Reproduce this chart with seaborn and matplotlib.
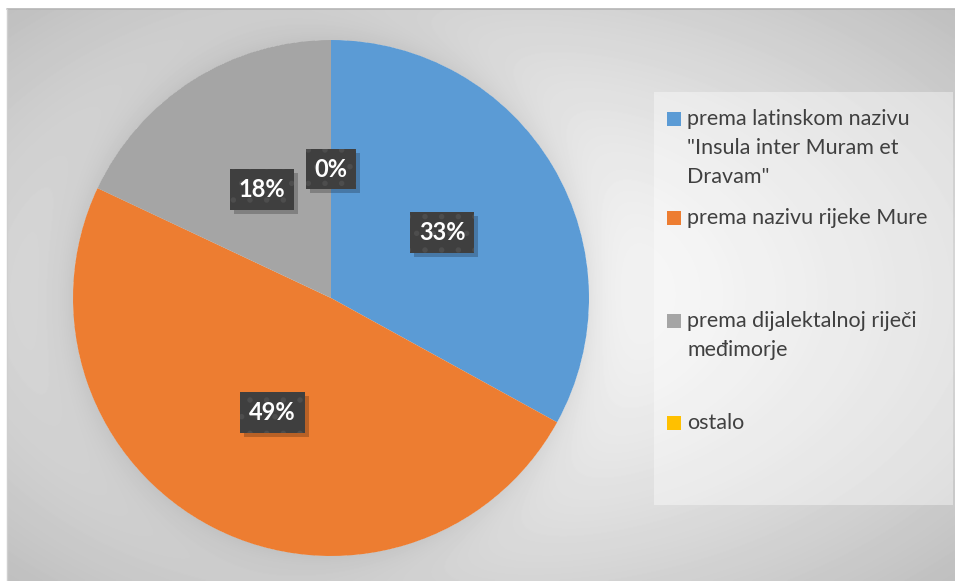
import numpy as np
import matplotlib
matplotlib.use("Agg")
import matplotlib.pyplot as plt
import matplotlib.transforms as mtransforms
from matplotlib.patches import Rectangle
import seaborn as sns

# Data
categories = ['prema latinskom nazivu\n"Insula inter Muram et\nDravam"',
              'prema nazivu rijeke Mure',
              'prema dijalektalnoj riječi\nmeđimorje',
              'ostalo']
shares = [33, 49, 18, 0]
colors = ['#5B9BD5', '#ED7D31', '#A5A5A5', '#FFC000']

sns.set_style("white")
plt.rcParams['font.family'] = ['Lato', 'DejaVu Sans']
plt.rcParams['hatch.linewidth'] = 1.5

W, H = 955, 581
fig = plt.figure(figsize=(W / 100, H / 100), dpi=100)

# background: radial gradient + soft shadow around pie
bg = fig.add_axes([0, 0, 1, 1], zorder=-10)
yy, xx = np.mgrid[0:H, 0:W] + 0.5
cx, cy = 481, 295
rr = np.sqrt(((xx - cx) / (cx - 7)) ** 2 + ((yy - cy) / (cy - 9)) ** 2) / np.sqrt(2)
val = 1 - 0.25 * rr ** 1.2
pcx, pcy, prad = 331, 298, 258
d = np.sqrt((xx - pcx) ** 2 + (yy - pcy) ** 2) - prad
val = val * np.where(d > 0, 1 - 0.09 * np.exp(-np.clip(d, 0, None) / 22), 1)
val[:9, :] = 1.0
val[:, :7] = 1.0
bg.imshow(val, cmap='gray', vmin=0, vmax=1, extent=(0, W, H, 0), interpolation='bilinear')
bg.plot([7, W], [8.5, 8.5], color='#b5b5b5', lw=1.2)
bg.plot([7, 7], [8.5, H], color='#cfcfcf', lw=1)
# legend panel
bg.add_patch(Rectangle((654, 92), 299, 413, facecolor='white', alpha=0.4, lw=0))
bg.set_xlim(0, W)
bg.set_ylim(H, 0)
bg.axis('off')

# pie
ax = fig.add_axes([(pcx - prad) / W, (H - pcy - prad) / H, 2 * prad / W, 2 * prad / H])
wedges, texts, autotexts = ax.pie(
    shares, colors=colors, startangle=90, counterclock=False,
    autopct=lambda p: f'{p:.0f}%', pctdistance=0.5,
    wedgeprops=dict(linewidth=0),
    textprops=dict(color='white', fontsize=17, fontweight='bold'))
ax.set_xlim(-1, 1)
ax.set_ylim(-1, 1)
ax.set_aspect('equal')

for t in autotexts:
    t.set_bbox(dict(boxstyle='square,pad=0.38', facecolor='#3f3f3f',
                    edgecolor='#4d4d4d', linewidth=0, hatch='.'))
    t.set_zorder(5)

# drop shadows behind the label boxes
fig.canvas.draw()
for t in autotexts:
    ext = t.get_bbox_patch().get_window_extent()
    ax.add_patch(Rectangle((ext.x0 + 4, ext.y0 - 4), ext.width, ext.height,
                           transform=mtransforms.IdentityTransform(),
                           facecolor='black', alpha=0.22, lw=0, zorder=4))

# legend (Excel-style, evenly distributed entries)
entry_y = [119, 218, 321, 423]
line_h = 29
for label, col, y0 in zip(categories, colors, entry_y):
    bg.add_patch(Rectangle((667, y0 - 7), 14, 14, facecolor=col, lw=0))
    for i, line in enumerate(label.split('\n')):
        bg.text(687, y0 + i * line_h, line, ha='left', va='center',
                fontsize=15.5, color='#404040')

fig.savefig('out.png', dpi=100)
